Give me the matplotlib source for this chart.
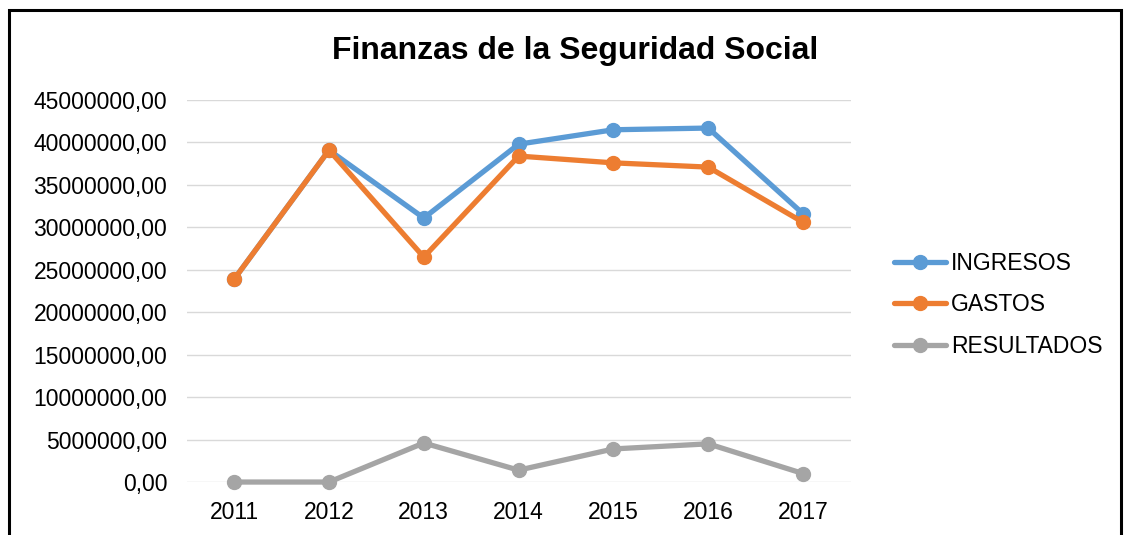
import matplotlib.pyplot as plt
from matplotlib.patches import Rectangle
from matplotlib.ticker import FuncFormatter

plt.rcParams['font.family'] = ['Liberation Sans', 'DejaVu Sans']

anios = ['2011', '2012', '2013', '2014', '2015', '2016', '2017']
ingresos = [23900000, 39100000, 31100000, 39800000, 41500000, 41700000, 31600000]
gastos = [23900000, 39100000, 26500000, 38400000, 37600000, 37100000, 30600000]
resultados = [0, 0, 4600000, 1400000, 3900000, 4500000, 1000000]

series = [('INGRESOS', ingresos, '#5B9BD5'),
          ('GASTOS', gastos, '#ED7D31'),
          ('RESULTADOS', resultados, '#A5A5A5')]

fig = plt.figure(figsize=(11.25, 5.35), dpi=100)
ax = fig.add_axes([0.166, 0.099, 0.590, 0.714])

x = range(len(anios))
for nombre, valores, color in series:
    ax.plot(x, valores, color=color, lw=3.8, marker='o', markersize=10,
            label=nombre, solid_capstyle='round', clip_on=False)

ax.set_xlim(-0.5, len(anios) - 0.5)
ax.set_ylim(0, 45000000)
ax.set_yticks(range(0, 45000001, 5000000))
ax.yaxis.set_major_formatter(FuncFormatter(lambda v, p: f'{int(v)},00'))
ax.set_xticks(list(x))
ax.set_xticklabels(anios)
ax.tick_params(length=0, labelsize=16.5, colors='#000000')
ax.tick_params(axis='y', pad=14)
ax.tick_params(axis='x', pad=14)
ax.grid(axis='y', color='#D9D9D9', lw=1)
ax.set_axisbelow(True)
for s in ax.spines.values():
    s.set_visible(False)

fig.text(0.511, 0.905, 'Finanzas de la Seguridad Social', ha='center',
         va='center', fontsize=23, fontweight='bold')

fig.legend(loc='center left', bbox_to_anchor=(0.776, 0.430), frameon=False,
           fontsize=16.5, handlelength=2.3, handletextpad=0.2, labelspacing=0.8)

# marco del grafico
fig.patches.append(Rectangle((9, -20), 1112, 545, transform=None, fill=False,
                             edgecolor='black', lw=2.2))

fig.savefig('out.png', dpi=100)
